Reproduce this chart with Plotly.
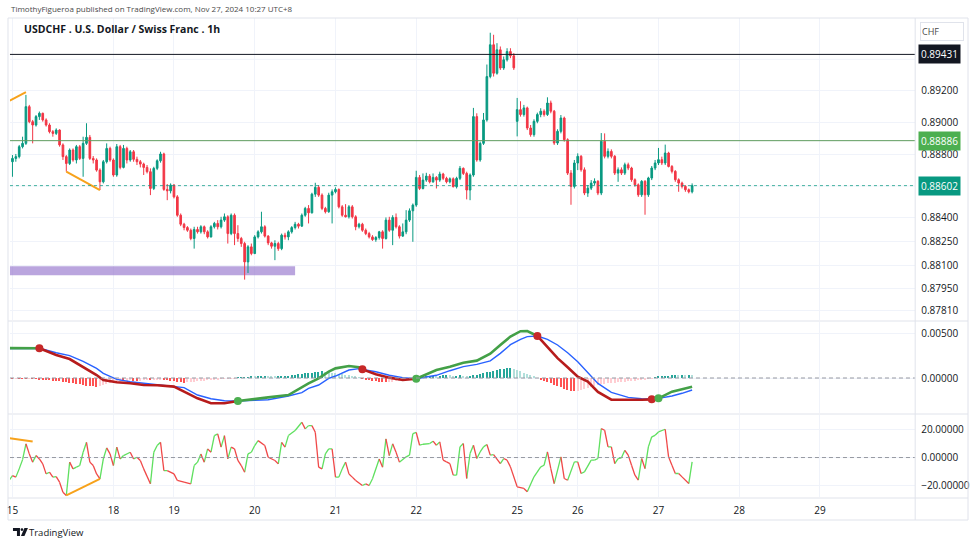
import plotly.graph_objects as go

# ---------------- data (USDCHF 1h, bar index 0 = Nov 15 00:00) ----------------
opens = [
 0.88753,0.88774,0.88785,0.88848,0.88869,0.89101,0.89006,0.88985,0.89038,0.89059,
 0.89017,0.88985,0.88943,0.88932,0.88953,0.88859,0.88785,0.88742,0.88827,0.88764,
 0.88848,0.88774,0.88869,0.88907,0.88774,0.88764,0.88700,0.88626,0.88753,0.88837,
 0.88764,0.88669,0.88848,0.88717,0.88837,0.88764,0.88816,0.88768,0.88753,0.88738,
 0.88717,0.88690,0.88584,0.88711,0.88759,0.88802,0.88578,0.88569,0.88605,0.88531,
 0.88415,0.88358,0.88337,0.88320,0.88268,0.88325,0.88310,0.88342,0.88310,0.88278,
 0.88342,0.88363,0.88342,0.88384,0.88405,0.88299,0.88415,0.88299,0.88268,0.88236,
 0.88120,0.88215,0.88173,0.88278,0.88310,0.88342,0.88283,0.88240,0.88219,0.88236,
 0.88204,0.88289,0.88278,0.88310,0.88337,0.88358,0.88346,0.88415,0.88458,0.88430,
 0.88548,0.88591,0.88542,0.88458,0.88437,0.88542,0.88563,0.88578,0.88468,0.88415,
 0.88405,0.88468,0.88405,0.88342,0.88358,0.88320,0.88299,0.88278,0.88261,0.88274,
 0.88310,0.88268,0.88384,0.88320,0.88401,0.88342,0.88283,0.88310,0.88384,0.88443,
 0.88479,0.88654,0.88584,0.88637,0.88662,0.88626,0.88654,0.88637,0.88675,0.88648,
 0.88626,0.88645,0.88595,0.88648,0.88711,0.88679,0.88574,0.88669,0.89038,0.88764,
 0.88869,0.89017,0.89291,0.89492,0.89312,0.89460,0.89345,0.89397,0.89449,0.89422,
 0.89008,0.89082,0.89051,0.89093,0.88966,0.88924,0.89008,0.89051,0.89072,0.89051,
 0.89124,0.89072,0.88871,0.88945,0.89029,0.88892,0.88681,0.88597,0.88745,0.88787,
 0.88702,0.88555,0.88586,0.88618,0.88629,0.88555,0.88882,0.88787,0.88818,0.88787,
 0.88681,0.88702,0.88681,0.88734,0.88713,0.88639,0.88607,0.88544,0.88629,0.88544,
 0.88650,0.88713,0.88745,0.88766,0.88745,0.88808,0.88723,0.88692,0.88639,0.88618,
 0.88597,0.88576,0.88563]
highs = [
 0.88795,0.88802,0.88859,0.88911,0.89175,0.89112,0.89017,0.89048,0.89070,0.89063,
 0.89027,0.88996,0.88953,0.88964,0.88958,0.88869,0.88795,0.88837,0.88837,0.88859,
 0.88859,0.88911,0.88996,0.88922,0.88789,0.88774,0.88711,0.88764,0.88869,0.88848,
 0.88774,0.88865,0.88859,0.88859,0.88848,0.88827,0.88827,0.88785,0.88764,0.88747,
 0.88732,0.88711,0.88721,0.88768,0.88816,0.88810,0.88612,0.88616,0.88612,0.88542,
 0.88426,0.88367,0.88346,0.88331,0.88342,0.88342,0.88352,0.88350,0.88320,0.88352,
 0.88373,0.88384,0.88405,0.88426,0.88415,0.88426,0.88426,0.88352,0.88278,0.88247,
 0.88226,0.88236,0.88289,0.88320,0.88437,0.88352,0.88289,0.88247,0.88257,0.88247,
 0.88299,0.88304,0.88320,0.88346,0.88373,0.88367,0.88426,0.88468,0.88479,0.88557,
 0.88620,0.88605,0.88553,0.88468,0.88557,0.88578,0.88591,0.88584,0.88479,0.88485,
 0.88479,0.88479,0.88415,0.88367,0.88367,0.88331,0.88310,0.88289,0.88283,0.88316,
 0.88320,0.88401,0.88405,0.88415,0.88426,0.88352,0.88363,0.88447,0.88458,0.88489,
 0.88696,0.88669,0.88679,0.88683,0.88675,0.88679,0.88662,0.88690,0.88683,0.88658,
 0.88654,0.88654,0.88658,0.88726,0.88717,0.88690,0.88679,0.89093,0.89059,0.88880,
 0.89061,0.89367,0.89568,0.89555,0.89502,0.89481,0.89418,0.89470,0.89470,0.89439,
 0.89156,0.89135,0.89112,0.89101,0.88985,0.89021,0.89063,0.89091,0.89084,0.89160,
 0.89139,0.89080,0.88958,0.89048,0.89038,0.88901,0.88700,0.88764,0.88806,0.88795,
 0.88717,0.88605,0.88637,0.88648,0.88637,0.88934,0.88932,0.88837,0.88831,0.88795,
 0.88717,0.88717,0.88747,0.88747,0.88721,0.88648,0.88616,0.88637,0.88637,0.88658,
 0.88726,0.88764,0.88840,0.88785,0.88861,0.88816,0.88732,0.88700,0.88648,0.88627,
 0.88605,0.88584,0.88616]
lows = [
 0.88658,0.88753,0.88774,0.88837,0.88859,0.88996,0.88869,0.88975,0.89017,0.89006,
 0.88975,0.88932,0.88911,0.88922,0.88848,0.88764,0.88690,0.88732,0.88753,0.88742,
 0.88764,0.88658,0.88859,0.88764,0.88742,0.88690,0.88574,0.88616,0.88742,0.88753,
 0.88658,0.88658,0.88705,0.88711,0.88742,0.88753,0.88753,0.88732,0.88717,0.88669,
 0.88679,0.88542,0.88574,0.88700,0.88747,0.88569,0.88510,0.88553,0.88521,0.88405,
 0.88346,0.88320,0.88310,0.88257,0.88204,0.88299,0.88299,0.88295,0.88268,0.88274,
 0.88331,0.88325,0.88331,0.88373,0.88236,0.88289,0.88226,0.88247,0.88215,0.88008,
 0.88050,0.88162,0.88169,0.88268,0.88299,0.88274,0.88226,0.88204,0.88131,0.88190,
 0.88194,0.88261,0.88257,0.88299,0.88325,0.88331,0.88342,0.88405,0.88363,0.88426,
 0.88531,0.88531,0.88447,0.88426,0.88430,0.88363,0.88553,0.88458,0.88405,0.88401,
 0.88394,0.88394,0.88320,0.88331,0.88310,0.88289,0.88268,0.88253,0.88247,0.88261,
 0.88204,0.88261,0.88310,0.88226,0.88331,0.88268,0.88278,0.88295,0.88373,0.88247,
 0.88468,0.88574,0.88578,0.88626,0.88616,0.88620,0.88584,0.88626,0.88637,0.88616,
 0.88616,0.88591,0.88584,0.88637,0.88669,0.88515,0.88510,0.88658,0.88753,0.88753,
 0.88859,0.89006,0.89280,0.89291,0.89303,0.89333,0.89333,0.89386,0.89407,0.89333,
 0.88913,0.89038,0.89038,0.88953,0.88911,0.88911,0.88996,0.89034,0.89038,0.89042,
 0.89059,0.88859,0.88859,0.88932,0.88880,0.88669,0.88481,0.88584,0.88700,0.88690,
 0.88542,0.88531,0.88574,0.88605,0.88542,0.88542,0.88774,0.88774,0.88774,0.88669,
 0.88626,0.88669,0.88669,0.88700,0.88626,0.88595,0.88531,0.88531,0.88418,0.88531,
 0.88637,0.88700,0.88732,0.88732,0.88732,0.88717,0.88679,0.88626,0.88563,0.88584,
 0.88563,0.88553,0.88553]
closes = [
 0.88774,0.88785,0.88848,0.88869,0.89101,0.89006,0.88985,0.89038,0.89059,0.89017,
 0.88985,0.88943,0.88932,0.88953,0.88859,0.88785,0.88742,0.88827,0.88764,0.88848,
 0.88774,0.88869,0.88907,0.88774,0.88764,0.88700,0.88626,0.88753,0.88837,0.88764,
 0.88669,0.88848,0.88717,0.88837,0.88764,0.88816,0.88768,0.88753,0.88738,0.88717,
 0.88690,0.88584,0.88711,0.88759,0.88802,0.88578,0.88569,0.88605,0.88531,0.88415,
 0.88358,0.88337,0.88320,0.88268,0.88325,0.88310,0.88342,0.88310,0.88278,0.88342,
 0.88363,0.88342,0.88384,0.88405,0.88299,0.88415,0.88299,0.88268,0.88236,0.88120,
 0.88215,0.88173,0.88278,0.88310,0.88342,0.88283,0.88240,0.88219,0.88236,0.88204,
 0.88289,0.88278,0.88310,0.88337,0.88358,0.88346,0.88415,0.88458,0.88430,0.88548,
 0.88591,0.88542,0.88458,0.88437,0.88542,0.88563,0.88578,0.88468,0.88415,0.88405,
 0.88468,0.88405,0.88342,0.88358,0.88320,0.88299,0.88278,0.88261,0.88274,0.88310,
 0.88268,0.88384,0.88320,0.88401,0.88342,0.88283,0.88310,0.88384,0.88443,0.88479,
 0.88654,0.88584,0.88637,0.88662,0.88626,0.88654,0.88637,0.88675,0.88648,0.88626,
 0.88645,0.88595,0.88648,0.88711,0.88679,0.88574,0.88669,0.89038,0.88764,0.88869,
 0.89017,0.89291,0.89492,0.89312,0.89460,0.89345,0.89397,0.89449,0.89422,0.89346,
 0.89082,0.89051,0.89093,0.88966,0.88924,0.89008,0.89051,0.89072,0.89051,0.89124,
 0.89072,0.88871,0.88945,0.89029,0.88892,0.88681,0.88597,0.88745,0.88787,0.88702,
 0.88555,0.88586,0.88618,0.88629,0.88555,0.88882,0.88787,0.88818,0.88787,0.88681,
 0.88702,0.88681,0.88734,0.88713,0.88639,0.88607,0.88544,0.88629,0.88544,0.88650,
 0.88713,0.88745,0.88766,0.88745,0.88808,0.88723,0.88692,0.88639,0.88618,0.88597,
 0.88576,0.88563,0.88602]
bars = list(range(len(closes)))

day_tick_bars = [0, 30, 48, 72, 96, 120, 150, 168, 192, 216, 240]
day_tick_labels = ["15", "18", "19", "20", "21", "22", "25", "26", "27", "28", "29"]

price_ticks = [0.8920, 0.8900, 0.8880, 0.8840, 0.8825, 0.8810, 0.8795, 0.8781]
price_grid_extra = [0.8940, 0.8860]
macd_ticks = [0.005, 0.0]
osc_ticks = [20, 0, -20]

resistance_level = 0.89431
pivot_level = 0.88886
last_price = closes[-1]

zone_bars = [-5, 84]
zone_prices = [0.88036, 0.88093]

price_div_x = [[-0.8, 4.0], [16, 26]]
price_div_y = [[0.89139, 0.89192], [0.88690, 0.88574]]
osc_div_x = [[-0.8, 6.0], [16, 26]]
osc_div_y = [[13.8, 11.4], [-27.1, -15.2]]

# MACD line / signal line (sampled at bar indices; equal values mark crossovers)
macd_idx = [-1, 8, 13, 17, 21, 25, 27, 31, 35, 39, 43, 45, 48, 51, 55, 59, 63, 67, 72, 76,
            82, 86, 88, 91, 94, 96, 100, 103, 104, 108, 112, 116, 120, 126, 130, 134, 138, 142, 145, 148,
            151, 153, 156, 159, 162, 165, 168, 171, 174, 178, 183, 187, 190, 191, 192, 196, 199, 202]
macd_vals = [0.00332, 0.00330, 0.00256, 0.00211, 0.00126, 0.00033, -0.00022, -0.00048, -0.00059, -0.00078,
             -0.00081, -0.00085, -0.00096, -0.00152, -0.00226, -0.00281, -0.00281, -0.00256, -0.00230, -0.00215,
             -0.00189, -0.00096, -0.00059, -0.00004, 0.00070, 0.00107, 0.00133, 0.00119, 0.00096, 0.00041,
             0.00004, -0.00022, -0.00008, 0.00089, 0.00126, 0.00170, 0.00193, 0.00270, 0.00367, 0.00460,
             0.00520, 0.00522, 0.00467, 0.00340, 0.00220, 0.00120, 0.00015, -0.00041, -0.00155, -0.00240,
             -0.00244, -0.00242, -0.00237, -0.00236, -0.00226, -0.00152, -0.00125, -0.00096]
signal_vals = [0.00328, 0.00330, 0.00281, 0.00248, 0.00185, 0.00107, 0.00052, -0.00015, -0.00041, -0.00056,
               -0.00078, -0.00081, -0.00093, -0.00107, -0.00189, -0.00230, -0.00252, -0.00256, -0.00248, -0.00241,
               -0.00200, -0.00163, -0.00115, -0.00078, -0.00004, 0.00022, 0.00089, 0.00104, 0.00096, 0.00070,
               0.00030, 0.00004, -0.00008, 0.00030, 0.00081, 0.00126, 0.00152, 0.00190, 0.00274, 0.00370,
               0.00430, 0.00460, 0.00467, 0.00430, 0.00367, 0.00280, 0.00180, 0.00060, -0.00060, -0.00160,
               -0.00215, -0.00230, -0.00237, -0.00234, -0.00226, -0.00200, -0.00170, -0.00133]

hist_vals = [
 -0.00003,-0.00002,-0.00004,-0.00005,-0.00006,-0.00005,-0.00006,-0.00008,
 -0.00012,-0.00016,-0.00020,-0.00024,-0.00028,-0.00032,-0.00036,-0.00042,-0.00048,
 -0.00054,-0.00060,-0.00066,-0.00072,-0.00078,-0.00084,-0.00090,-0.00094,-0.00096,
 -0.00085,-0.00074,-0.00062,-0.00050,-0.00040,-0.00032,
 -0.00030,-0.00034,-0.00030,-0.00026,-0.00030,-0.00034,-0.00030,-0.00026,-0.00022,-0.00026,-0.00022,-0.00018,-0.00014,-0.00018,
 -0.00024,-0.00030,-0.00036,-0.00042,-0.00046,-0.00050,-0.00048,-0.00045,
 -0.00040,-0.00036,-0.00032,-0.00028,-0.00025,-0.00021,-0.00017,-0.00013,-0.00010,-0.00008,-0.00005,-0.00003,-0.00001,
 0.00003,0.00006,0.00009,0.00011,0.00013,0.00012,0.00014,0.00016,0.00017,0.00015,0.00013,0.00012,0.00014,0.00017,0.00021,0.00026,
 0.00031,0.00036,0.00041,0.00046,0.00051,0.00056,0.00061,0.00066,0.00070,0.00073,0.00070,0.00065,
 0.00060,0.00052,0.00046,0.00040,0.00034,0.00028,0.00021,0.00014,0.00006,
 -0.00005,-0.00013,-0.00021,-0.00028,-0.00034,-0.00040,-0.00045,-0.00049,-0.00046,-0.00041,-0.00036,-0.00031,-0.00026,-0.00020,-0.00014,-0.00006,
 0.00005,0.00010,0.00015,0.00020,0.00024,0.00026,0.00023,0.00025,0.00029,0.00031,0.00028,0.00024,0.00026,0.00030,0.00027,0.00023,0.00026,0.00031,
 0.00037,0.00045,0.00054,0.00063,0.00072,0.00081,0.00090,0.00098,0.00104,0.00108,0.00110,
 0.00102,0.00090,0.00076,0.00061,0.00046,0.00031,0.00016,
 0.00000,
 -0.00015,-0.00030,-0.00045,-0.00060,-0.00075,-0.00090,-0.00104,-0.00118,-0.00130,-0.00140,-0.00148,
 -0.00142,-0.00134,-0.00124,-0.00112,-0.00100,-0.00090,-0.00080,-0.00072,-0.00065,
 -0.00060,-0.00056,-0.00052,-0.00048,-0.00044,-0.00040,-0.00036,-0.00032,-0.00028,-0.00024,-0.00020,-0.00015,-0.00010,
 -0.00004,0.00006,0.00012,0.00018,0.00023,0.00027,0.00030,0.00032,0.00030,0.00033,0.00031,0.00034,0.00032]

osc_idx = [-1, 0, 1, 2, 3, 4, 5, 6, 7, 8, 9, 10, 11, 12, 13, 14, 15, 16, 17, 18,
           19, 20, 21, 22, 23, 24, 25, 26, 27, 28, 29, 30, 31, 32, 33, 35, 36, 37, 38, 39,
           41, 42, 43, 44, 45, 46, 48, 49, 51, 53, 54, 55, 56, 57, 58, 59, 60, 61, 62, 63,
           64, 65, 66, 67, 68, 69, 70, 71, 72, 73, 75, 76, 78, 79, 80, 81, 82, 84, 86, 87,
           88, 89, 90, 91, 92, 93, 94, 95, 96, 97, 98, 99, 100, 101, 102, 104, 105, 106, 107, 109,
           110, 111, 112, 113, 114, 115, 117, 118, 119, 120, 121, 122, 124, 125, 126, 127, 128, 129, 130, 131,
           132, 133, 134, 135, 136, 137, 138, 139, 140, 141, 142, 143, 145, 146, 147, 148, 150, 152, 153, 155,
           157, 158, 159, 160, 161, 163, 164, 165, 167, 168, 169, 170, 172, 173, 174, 175, 176, 177, 178, 179,
           180, 181, 182, 183, 184, 185, 186, 187, 188, 189, 190, 191, 192, 194, 195, 196, 197, 198, 199, 201,
           202]
osc_vals = [-16.4, -12.9, -14.0, -8.1, -1.5, 9.8, 2.6, -3.3, 1.4, -1.0, -4.5, -11.7, -10.5, -14.0, -13.6, -17.6, -24.8, -27.1, -3.3, -8.1,
            -6.9, -5.7, 3.8, 10.9, -3.3, -5.7, -11.7, -15.2, -1.0, 6.9, 2.6, -5.7, 7.4, -1.0, 1.4, 3.8, -1.0, 0.2, -2.1, -8.1,
            -18.8, 3.8, 8.6, 10.9, -9.3, -9.3, -11.7, -16.4, -17.6, -18.8, -5.7, -3.3, 2.6, -3.3, 6.2, 3.8, 15.7, 16.9, 7.4, 15.7,
            -1.0, 7.4, 6.2, -2.1, -5.7, -10.5, 2.6, 3.8, 8.6, 12.1, 8.6, 0.2, -2.1, -4.5, 10.9, 7.4, 15.7, 19.3, 25.2, 20.5,
            22.8, 22.8, 18.1, -6.9, -8.1, 2.6, 6.2, 6.2, -14.0, -14.0, -8.1, -3.3, -11.7, -14.0, -16.4, -20.0, -18.8, -20.0, -15.2, -1.0,
            -6.9, 13.3, 1.4, 9.8, 3.8, -3.3, 0.5, 1.7, 17.1, 17.9, 8.8, 9.5, 10.0, 11.7, 8.8, 11.2, -1.9, -3.1, -4.3, -12.6,
            -12.6, 7.6, 10.0, -15.0, 2.9, 8.8, -0.7, 4.0, 7.6, 9.3, 1.7, 2.1, -4.3, -0.7, -1.9, -6.7, -20.9, -22.1, -24.5, -13.8,
            -6.7, -5.5, 4.0, -7.9, -18.6, 0.5, -15.0, -16.2, -3.1, -3.1, -11.4, -10.2, -1.9, -1.9, -0.7, 20.7, 19.5, 7.6, 7.6, -4.3,
            -0.7, -0.2, 5.2, 1.7, -5.5, -12.6, -16.2, -0.7, -7.9, 7.6, 14.8, 15.9, 18.3, 20.2, 0.5, -5.5, -11.4, -11.4, -13.8, -18.6,
            -3.1]
assert len(osc_idx) == len(osc_vals)
assert len(macd_idx) == len(macd_vals) == len(signal_vals)
assert len(hist_vals) == len(closes) == len(opens) == len(highs) == len(lows)

# ---------------- layout geometry (pixels) ----------------
W, H = 975, 545
def px(x): return x / W
def py(y): return 1 - y / H

PLOT_L, PLOT_R = 7, 915
BAR0_X, BAR_W = 9.5, 3.375
x_range = [(PLOT_L - BAR0_X) / BAR_W, (PLOT_R - BAR0_X) / BAR_W]

FONT = "Open Sans"
TXT = "#131722"
GRID = "#f0f3fa"
SEP = "#e0e3eb"

fig = go.Figure()

# ---- price pane ----
fig.add_trace(go.Candlestick(
    x=bars, open=opens, high=highs, low=lows, close=closes,
    increasing=dict(line=dict(color="#089981", width=1), fillcolor="#089981"),
    decreasing=dict(line=dict(color="#f23645", width=1), fillcolor="#f23645"),
    whiskerwidth=0, xaxis="x", yaxis="y", showlegend=False, hoverinfo="skip"))

for xs, ys in zip(price_div_x, price_div_y):
    fig.add_trace(go.Scatter(x=xs, y=ys, mode="lines", line=dict(color="#f7a21b", width=2),
                             xaxis="x", yaxis="y", showlegend=False, hoverinfo="skip"))

# ---- MACD pane ----
hist_colors = []
for k, v in enumerate(hist_vals):
    prev = hist_vals[k - 1] if k > 0 else v
    if v >= 0:
        hist_colors.append("#26a69a" if v >= prev else "#b2dfdb")
    else:
        hist_colors.append("#ff5252" if v <= prev else "#ffcdd2")
fig.add_trace(go.Bar(x=bars, y=hist_vals, marker=dict(color=hist_colors, line=dict(width=0)),
                     width=0.42, xaxis="x2", yaxis="y2", showlegend=False, hoverinfo="skip"))

fig.add_trace(go.Scatter(x=macd_idx, y=signal_vals, mode="lines", line=dict(color="#2962ff", width=1.4),
                         xaxis="x2", yaxis="y2", showlegend=False, hoverinfo="skip"))

diff = [m - s for m, s in zip(macd_vals, signal_vals)]
runs = []
for k in range(1, len(macd_idx)):
    col = "#43a047" if diff[k - 1] + diff[k] >= 0 else "#b71c1c"
    if runs and runs[-1][0] == col:
        runs[-1][1].append(k)
    else:
        runs.append([col, [k - 1, k]])
for col, ks in runs:
    fig.add_trace(go.Scatter(x=[macd_idx[k] for k in ks], y=[macd_vals[k] for k in ks], mode="lines",
                             line=dict(color=col, width=2.6), xaxis="x2", yaxis="y2",
                             showlegend=False, hoverinfo="skip"))

cx, cy, cc = [], [], []
for k in range(1, len(macd_idx) - 1):
    if abs(diff[k]) < 1e-12:
        cx.append(macd_idx[k]); cy.append(macd_vals[k])
        cc.append("#4caf50" if diff[k + 1] > 0 else "#c62828")
fig.add_trace(go.Scatter(x=cx, y=cy, mode="markers", marker=dict(color=cc, size=8),
                         xaxis="x2", yaxis="y2", showlegend=False, hoverinfo="skip"))

# ---- oscillator pane ----
gx, gy, rx, ry = [], [], [], []
for k in range(1, len(osc_idx)):
    tx, ty = (gx, gy) if osc_vals[k] >= osc_vals[k - 1] else (rx, ry)
    tx += [osc_idx[k - 1], osc_idx[k], None]
    ty += [osc_vals[k - 1], osc_vals[k], None]
fig.add_trace(go.Scatter(x=gx, y=gy, mode="lines", line=dict(color="#5fe05f", width=1.3),
                         xaxis="x3", yaxis="y3", showlegend=False, hoverinfo="skip"))
fig.add_trace(go.Scatter(x=rx, y=ry, mode="lines", line=dict(color="#f04848", width=1.3),
                         xaxis="x3", yaxis="y3", showlegend=False, hoverinfo="skip"))
for xs, ys in zip(osc_div_x, osc_div_y):
    fig.add_trace(go.Scatter(x=xs, y=ys, mode="lines", line=dict(color="#f7a21b", width=2),
                             xaxis="x3", yaxis="y3", showlegend=False, hoverinfo="skip"))

# ---------------- axes ----------------
xcommon = dict(domain=[px(PLOT_L), px(PLOT_R)], range=x_range, tickvals=day_tick_bars,
               ticktext=day_tick_labels, showgrid=True, gridcolor=GRID, gridwidth=1,
               zeroline=False, showline=False, ticks="", fixedrange=True)
ycommon = dict(side="right", showgrid=True, gridcolor=GRID, gridwidth=1, zeroline=False,
               showline=False, ticks="", tickfont=dict(family=FONT, size=10, color=TXT),
               ticklabelstandoff=5)

fig.update_layout(
    width=W, height=H, margin=dict(l=0, r=0, t=0, b=0),
    paper_bgcolor="white", plot_bgcolor="white", showlegend=False, bargap=0,
    xaxis=dict(**xcommon, anchor="y", showticklabels=False, rangeslider=dict(visible=False)),
    xaxis2=dict(**xcommon, anchor="y2", showticklabels=False, matches="x"),
    xaxis3=dict(**xcommon, anchor="y3", showticklabels=True, matches="x",
                tickfont=dict(family=FONT, size=10, color=TXT), ticklabelstandoff=6),
    yaxis=dict(**ycommon, anchor="x", domain=[py(320), py(18)], range=[0.87753, 0.89661],
               tickvals=price_ticks, ticktext=[f"{v:.5f}" for v in price_ticks]),
    yaxis2=dict(**ycommon, anchor="x2", domain=[py(413), py(322)], range=[-0.003889, 0.006222],
                tickvals=macd_ticks, ticktext=[f"{v:.5f}" for v in macd_ticks]),
    yaxis3=dict(**ycommon, anchor="x3", domain=[py(497), py(415)], range=[-28.2, 30.4],
                tickvals=osc_ticks, ticktext=[f"{v:.5f}".replace("-", "\u2212") for v in osc_ticks]),
)

shapes = []
# extra grid rows hidden behind the price labels
for g in price_grid_extra:
    shapes.append(dict(type="line", xref="x domain", yref="y", x0=0, x1=1, y0=g, y1=g,
                       line=dict(color=GRID, width=1), layer="below"))
# price zone and reference lines
shapes.append(dict(type="rect", xref="x", yref="y", x0=zone_bars[0], x1=zone_bars[1],
                   y0=zone_prices[0], y1=zone_prices[1], fillcolor="rgba(149,117,205,0.65)",
                   line=dict(width=0), layer="between"))
shapes.append(dict(type="line", xref="x domain", yref="y", x0=0, x1=1, y0=resistance_level,
                   y1=resistance_level, line=dict(color="#131722", width=1)))
shapes.append(dict(type="line", xref="x domain", yref="y", x0=0, x1=1, y0=pivot_level,
                   y1=pivot_level, line=dict(color="#5e9c5e", width=1)))
shapes.append(dict(type="line", xref="x domain", yref="y", x0=0, x1=1, y0=last_price,
                   y1=last_price, line=dict(color="rgba(8,153,129,0.75)", width=1, dash="dot")))
# zero lines
shapes.append(dict(type="line", xref="x2 domain", yref="y2", x0=0, x1=1, y0=0, y1=0,
                   line=dict(color="#9598a1", width=1, dash="4px,3px")))
shapes.append(dict(type="line", xref="x3 domain", yref="y3", x0=0, x1=1, y0=0, y1=0,
                   line=dict(color="#9598a1", width=1, dash="4px,3px")))
# frame, pane separators, price-scale border
shapes.append(dict(type="rect", xref="paper", yref="paper", x0=px(5), x1=px(968), y0=py(520), y1=py(18),
                   line=dict(color=SEP, width=1)))
for yy in (321, 414, 498):
    shapes.append(dict(type="line", xref="paper", yref="paper", x0=px(5), x1=px(968), y0=py(yy), y1=py(yy),
                       line=dict(color=SEP, width=1)))
shapes.append(dict(type="line", xref="paper", yref="paper", x0=px(PLOT_R), x1=px(PLOT_R), y0=py(520), y1=py(18),
                   line=dict(color=SEP, width=1)))
# TradingView logo glyph
def path(pts):
    return "M" + " L".join(f"{px(a):.5f},{py(b):.5f}" for a, b in pts) + " Z"
shapes.append(dict(type="path", xref="paper", yref="paper",
                   path=path([(10, 528), (17, 528), (17, 536), (14, 536), (14, 531), (10, 531)]),
                   fillcolor="#131722", line=dict(width=0)))
shapes.append(dict(type="circle", xref="paper", yref="paper", x0=px(17.6), x1=px(20.4), y0=py(531), y1=py(528.2),
                   fillcolor="#131722", line=dict(width=0)))
shapes.append(dict(type="path", xref="paper", yref="paper",
                   path=path([(21.5, 528), (25, 528), (21.5, 536), (18, 536)]),
                   fillcolor="#131722", line=dict(width=0)))
fig.update_layout(shapes=shapes)

ann = []
ann.append(dict(xref="paper", yref="paper", x=px(6), y=py(9), xanchor="left", yanchor="middle",
                text="TimothyFigueroa published on TradingView.com, Nov 27, 2024 10:27 UTC+8",
                showarrow=False, font=dict(family=FONT, size=8, color="#4a4a4a")))
ann.append(dict(xref="paper", yref="paper", x=px(19), y=py(29), xanchor="left", yanchor="middle",
                text="<b>USDCHF . U.S. Dollar / Swiss Franc . 1h</b>",
                showarrow=False, font=dict(family=FONT, size=10.5, color=TXT)))
for val, bg in ((resistance_level, "#131722"), (pivot_level, "#4caf50"), (last_price, "#089981")):
    ann.append(dict(xref="paper", yref="y", x=px(PLOT_R + 3), y=val, xanchor="left", yanchor="middle",
                    text=f"{val:.5f}", showarrow=False, bgcolor=bg, borderpad=2,
                    font=dict(family=FONT, size=10, color="white")))
ann.append(dict(xref="paper", yref="paper", x=px(920), y=py(31), xanchor="left", yanchor="middle",
                text="CHF", showarrow=False, bgcolor="white", bordercolor=SEP, borderwidth=1,
                width=40, height=15, align="left", font=dict(family=FONT, size=9, color="#4a4a4a")))
ann.append(dict(xref="paper", yref="paper", x=px(24), y=py(532), xanchor="left", yanchor="middle",
                text="TradingView", showarrow=False, font=dict(family=FONT, size=9.5, color=TXT)))
fig.update_layout(annotations=ann)

fig.write_html("out.html")
